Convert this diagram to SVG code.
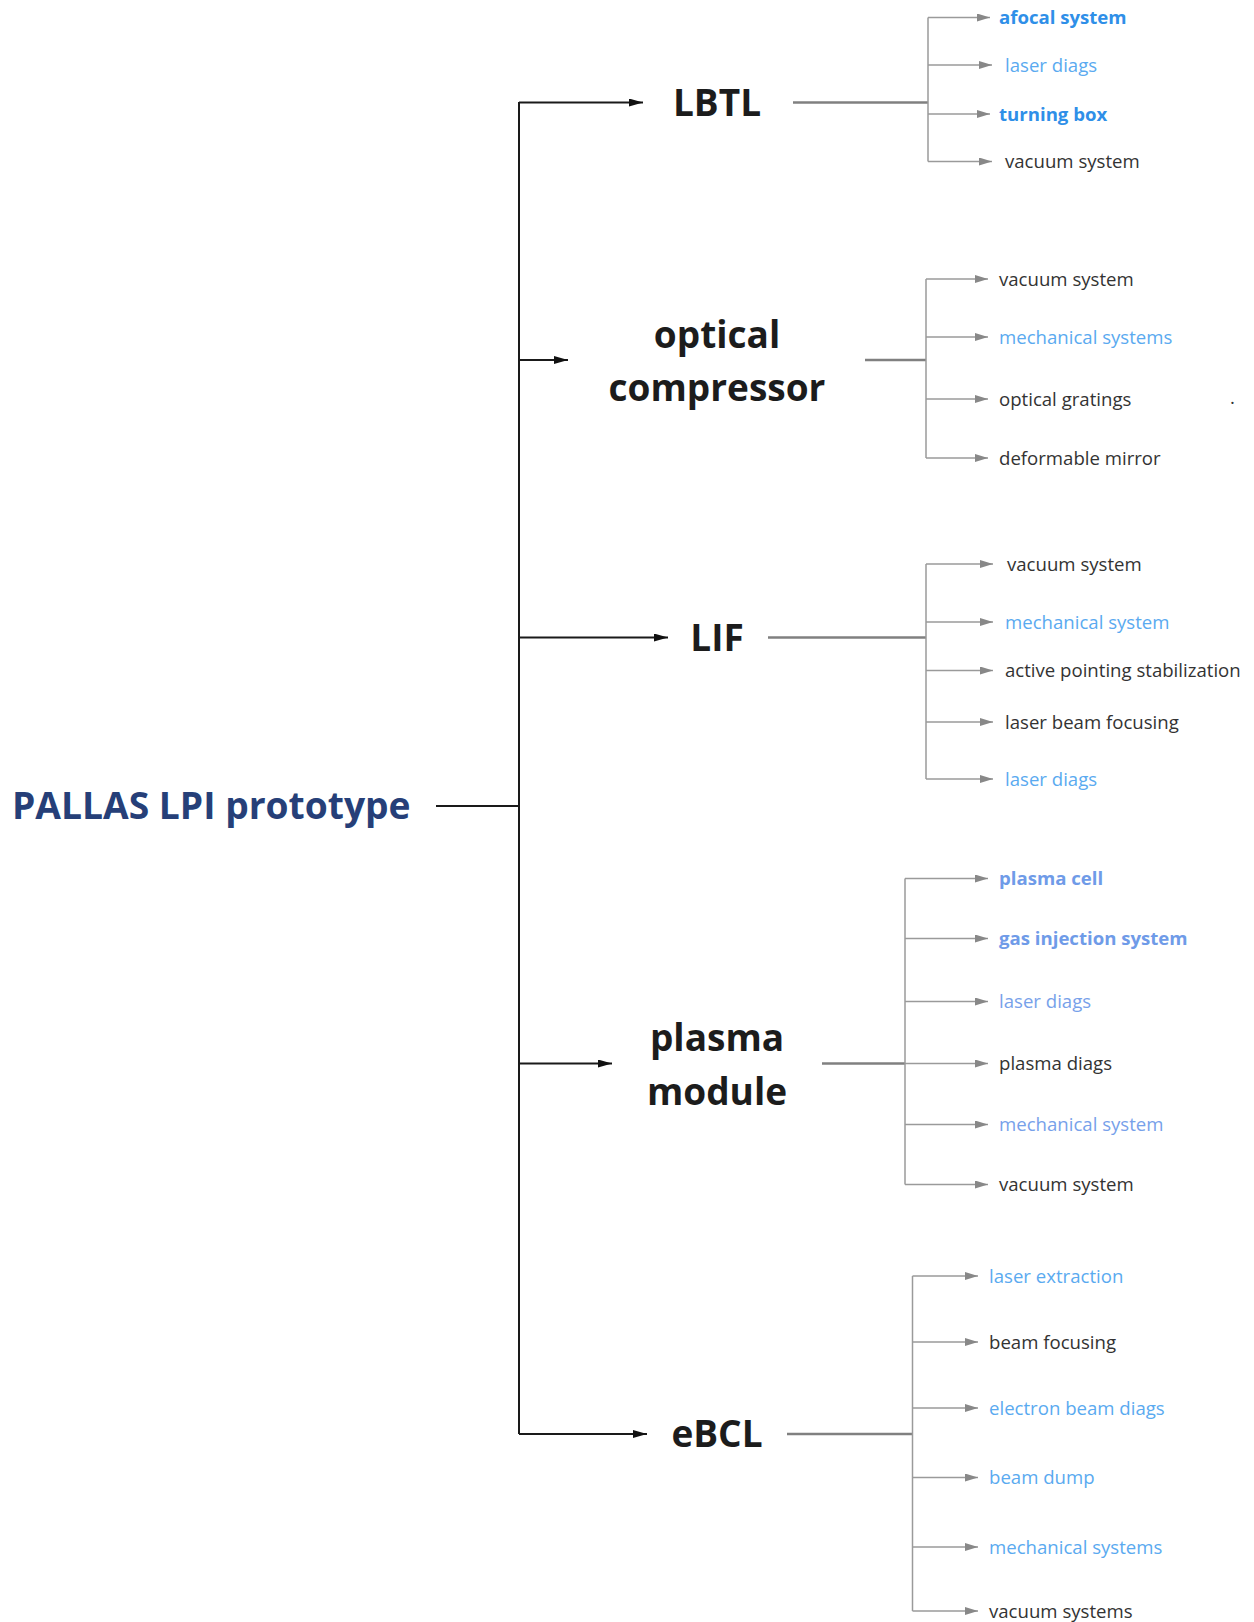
<svg xmlns="http://www.w3.org/2000/svg" width="1254" height="1622" viewBox="0 0 1254 1622">
<style>
text{font-family:"Open Sans","Noto Sans","Liberation Sans",sans-serif}
.main{font-size:37px;font-weight:bold;fill:#1c1c1c;text-anchor:middle}
.root{font-size:37.2px;font-weight:bold;fill:#263f78}
.c{font-size:18.6px;fill:#333}
.cb{font-size:18.6px;font-weight:bold;fill:#2f8fe8}
.cl{font-size:18.6px;fill:#5aaaf0}
.cp{font-size:18.6px;fill:#77a1ea}
.cpb{font-size:18.6px;font-weight:bold;fill:#6f9be8}
.trunk{stroke:#1a1a1a;stroke-width:2;fill:none}
.hub{stroke:#808080;stroke-width:2.5;fill:none}
.leaf{stroke:#9a9a9a;stroke-width:1.5;fill:none}
</style>
<defs>
<marker id="ab" markerUnits="userSpaceOnUse" markerWidth="14" markerHeight="8" refX="14" refY="4" orient="auto"><path d="M0,0 L14,4 L0,8 z" fill="#111"/></marker>
<marker id="ag" markerUnits="userSpaceOnUse" markerWidth="13" markerHeight="8" refX="13" refY="4" orient="auto"><path d="M0,0 L13,4 L0,8 z" fill="#888"/></marker>
</defs>
<g id="connectors">
<path class="trunk" d="M436,806 H519 M519,102 V1434"/>
<path class="trunk" marker-end="url(#ab)" d="M519,102.5 H643"/>
<path class="trunk" marker-end="url(#ab)" d="M519,360 H568"/>
<path class="trunk" marker-end="url(#ab)" d="M519,637.5 H668"/>
<path class="trunk" marker-end="url(#ab)" d="M519,1063.5 H612"/>
<path class="trunk" marker-end="url(#ab)" d="M519,1434 H647"/>
<path class="hub" d="M793,102.5 H928"/>
<path class="hub" d="M865,360 H926"/>
<path class="hub" d="M768,637.5 H926"/>
<path class="hub" d="M822,1063.5 H905"/>
<path class="hub" d="M787,1434 H912"/>
<path class="leaf" d="M928,17.5 V161.5 M926,279 V458 M926,564 V779 M905,878.5 V1184.5 M912.5,1276 V1611"/>
<g class="leaf" marker-end="url(#ag)">
<path d="M928,17.5 H990"/><path d="M928,65 H992"/><path d="M928,114 H990"/><path d="M928,161.5 H992"/>
<path d="M926,279 H988"/><path d="M926,337 H988"/><path d="M926,399 H988"/><path d="M926,458 H988"/>
<path d="M926,564 H993"/><path d="M926,622 H993"/><path d="M926,670.5 H993"/><path d="M926,722 H993"/><path d="M926,779 H993"/>
<path d="M905,878.5 H988"/><path d="M905,938.5 H988"/><path d="M905,1001.5 H988"/><path d="M905,1063.5 H988"/><path d="M905,1124.5 H988"/><path d="M905,1184.5 H988"/>
<path d="M912.5,1276 H978"/><path d="M912.5,1342 H978"/><path d="M912.5,1408 H978"/><path d="M912.5,1477.5 H978"/><path d="M912.5,1547 H978"/><path d="M912.5,1611 H978"/>
</g>
</g>
<g id="root"><text class="root" x="12" y="819">PALLAS LPI prototype</text></g>
<g id="lbtl"><text class="main" x="717" y="115.5">LBTL</text></g>
<g id="optical-compressor"><text class="main" x="717" y="348">optical</text><text class="main" x="717" y="401">compressor</text></g>
<g id="lif"><text class="main" x="717" y="650.5">LIF</text></g>
<g id="plasma-module"><text class="main" x="717" y="1051">plasma</text><text class="main" x="717" y="1105">module</text></g>
<g id="ebcl"><text class="main" x="717" y="1447">eBCL</text></g>
<g id="lbtl-children">
<text class="cb" x="999" y="24">afocal system</text>
<text class="cl" x="1005" y="72">laser diags</text>
<text class="cb" x="999" y="120.5">turning box</text>
<text class="c" x="1005" y="168">vacuum system</text>
</g>
<g id="oc-children">
<text class="c" x="999" y="285.5">vacuum system</text>
<text class="cl" x="999" y="344">mechanical systems</text>
<text class="c" x="999" y="405.5">optical gratings</text>
<text class="c" x="999" y="464.5">deformable mirror</text>
<text class="c" x="1230" y="404">.</text>
</g>
<g id="lif-children">
<text class="c" x="1007" y="570.5">vacuum system</text>
<text class="cl" x="1005" y="628.5">mechanical system</text>
<text class="c" x="1005" y="677">active pointing stabilization</text>
<text class="c" x="1005" y="728.5">laser beam focusing</text>
<text class="cl" x="1005" y="785.5">laser diags</text>
</g>
<g id="pm-children">
<text class="cpb" x="999" y="885">plasma cell</text>
<text class="cpb" x="999" y="945">gas injection system</text>
<text class="cp" x="999" y="1008">laser diags</text>
<text class="c" x="999" y="1070">plasma diags</text>
<text class="cp" x="999" y="1131">mechanical system</text>
<text class="c" x="999" y="1191">vacuum system</text>
</g>
<g id="ebcl-children">
<text class="cl" x="989" y="1282.5">laser extraction</text>
<text class="c" x="989" y="1348.5">beam focusing</text>
<text class="cl" x="989" y="1414.5">electron beam diags</text>
<text class="cl" x="989" y="1484">beam dump</text>
<text class="cl" x="989" y="1553.5">mechanical systems</text>
<text class="c" x="989" y="1617.5">vacuum systems</text>
</g>
</svg>
